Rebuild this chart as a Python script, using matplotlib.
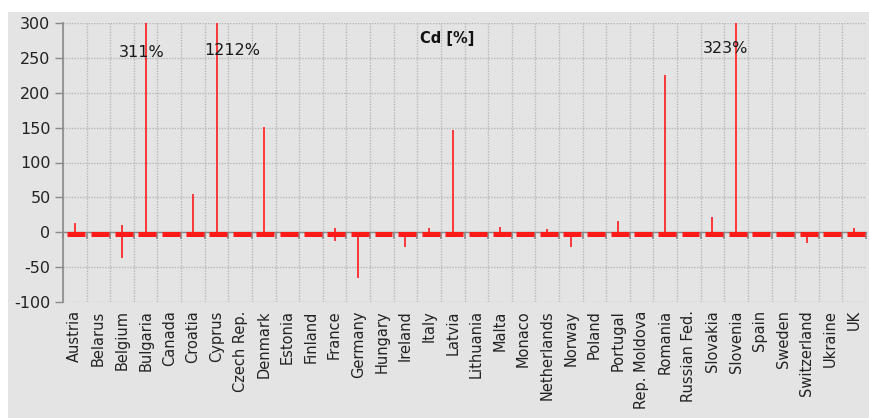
import numpy as np
import matplotlib
matplotlib.use("Agg")
import matplotlib.pyplot as plt
from matplotlib.patches import Rectangle

countries = ["Austria", "Belarus", "Belgium", "Bulgaria", "Canada", "Croatia",
             "Cyprus", "Czech Rep.", "Denmark", "Estonia", "Finland", "France",
             "Germany", "Hungary", "Ireland", "Italy", "Latvia", "Lithuania",
             "Malta", "Monaco", "Netherlands", "Norway", "Poland", "Portugal",
             "Rep. Moldova", "Romania", "Russian Fed.", "Slovakia", "Slovenia",
             "Spain", "Sweden", "Switzerland", "Ukraine", "UK"]

# Upper and lower ends of the Cd deviation range per country [%]
highs = [13, 0, 10, 311, 0, 55, 1212, 0, 151, 0, 0, 6, 0, 0, 0, 6, 146, 0,
         8, 0, 4, 0, 0, 16, 0, 225, 0, 22, 323, 0, 0, 0, 0, 6]
lows = [0, 0, -37, 0, 0, 0, -6, 0, 0, 0, 0, -12, -65, 0, -21, 0, 0, 0,
        0, 0, 0, -21, 0, 0, 0, -5, 0, 0, 0, 0, 0, -15, 0, 0]

y_ticks = [-100, -50, 0, 50, 100, 150, 200, 250, 300]
y_min, y_max = -100, 300

BG = "#e4e4e4"
GRID = "#b8b8b8"
AXIS = "#8a8a8a"
RED = "#ff1a1a"

fig = plt.figure(figsize=(8.69, 4.18), dpi=100)
fig.patch.set_facecolor("white")
fig.patches.append(Rectangle((8 / 869, 0), 1, 1 - 12 / 418,
                             transform=fig.transFigure, facecolor=BG,
                             edgecolor="none", zorder=-10))

ax = fig.add_axes([63 / 869, 1 - 302 / 418, 803 / 869, 279 / 418])
ax.set_facecolor(BG)

x = np.arange(len(countries))

# Thick marker band for every country
ax.hlines(np.full(len(x), -2.0), x - 0.31, x + 0.45, colors=RED,
          linewidth=3.6, zorder=4)

# Range lines (clipped at the top of the plot)
for xi, lo, hi in zip(x, lows, highs):
    if lo != hi:
        ax.vlines(xi, lo, min(hi, y_max), colors=RED, linewidth=1.2, zorder=3)

# Off-scale values written as text
label_dx = {3: -0.18, 6: 0.68, 28: -0.47}
label_y = {3: 258, 6: 261, 28: 264}
for i, hi in enumerate(highs):
    if hi > y_max:
        ax.text(x[i] + label_dx.get(i, 0), label_y.get(i, 260), f"{hi}%",
                ha="center", va="center", fontsize=11.5, color="#1a1a1a",
                zorder=6)

ax.set_xlim(-0.5, len(countries) - 0.5)
ax.set_ylim(y_min, y_max)

ax.set_yticks(y_ticks)
ax.set_yticklabels([str(v) for v in y_ticks], fontsize=11.5, color="#222222")
ax.tick_params(axis="y", direction="out", length=6, color=AXIS, width=1, pad=3)

ax.set_xticks(x)
ax.set_xticklabels(countries, rotation=90, fontsize=10.5, color="#222222")
ax.set_xticks(np.arange(-0.5, len(countries), 1), minor=True)
ax.tick_params(axis="x", which="both", length=0, pad=6)

ax.grid(True, axis="y", which="major", color=GRID, linestyle=(0, (1, 1)),
        linewidth=1)
ax.grid(True, axis="x", which="minor", color=GRID, linestyle=(0, (1, 1)),
        linewidth=1)
ax.set_axisbelow(True)

for side in ("top", "right", "bottom"):
    ax.spines[side].set_visible(False)
ax.spines["left"].set_color(AXIS)
ax.spines["left"].set_linewidth(1.2)

# Category axis line crossing at zero with tick marks between countries
zero_frac = (0 - y_min) / (y_max - y_min)
sec = ax.secondary_xaxis(zero_frac)
sec.set_xticks(np.arange(-0.5, len(countries), 1))
sec.set_xticklabels([])
sec.tick_params(axis="x", direction="out", length=5, color=AXIS, width=1.2)
sec.spines["bottom"].set_color(AXIS)
sec.spines["bottom"].set_linewidth(1)
sec.set_zorder(2)

ax.text(0.478, 0.946, "Cd [%]", transform=ax.transAxes, ha="center",
        va="center", fontsize=10.5, fontweight="bold", color="#111111")

fig.savefig("out.png", dpi=100, facecolor=fig.get_facecolor())
